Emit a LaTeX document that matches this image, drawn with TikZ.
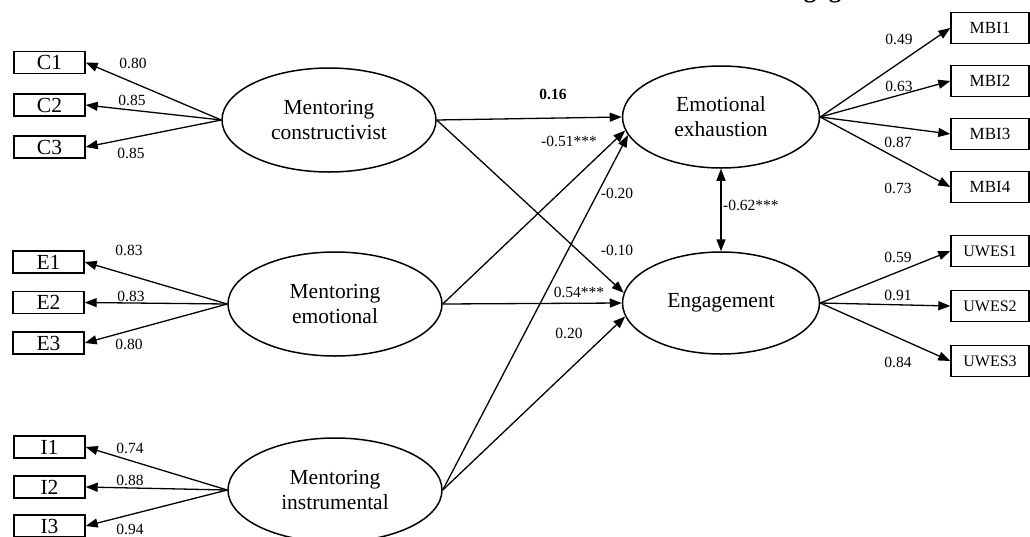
\documentclass[tikz,border=0pt]{standalone}
\usepackage{fontspec}
\setmainfont{Liberation Serif}
\usetikzlibrary{shapes.geometric,arrows.meta}
\begin{document}
\begin{tikzpicture}[x=1pt,y=-1pt,
  lat/.style={ellipse,draw,line width=1.5pt,inner sep=0pt,align=center,
    font=\fontsize{21.5}{25}\selectfont},
  latL/.style={lat,minimum width=214pt,minimum height=104pt},
  latR/.style={lat,minimum width=197pt,minimum height=102pt},
  ind/.style={rectangle,draw,line width=1.4pt,inner sep=0pt,
    minimum width=71pt,minimum height=22pt,font=\fontsize{21.5}{22}\selectfont},
  indR/.style={rectangle,draw,line width=1.4pt,inner sep=0pt,
    minimum width=78pt,minimum height=31pt,font=\fontsize{17}{18}\selectfont},
  lab/.style={inner sep=0pt,font=\fontsize{15.5}{17}\selectfont},
  arr/.style={line width=1.3pt,-{Triangle[length=12pt,width=9pt]}},
  darr/.style={line width=1.3pt,{Triangle[length=12pt,width=9pt]}-{Triangle[length=12pt,width=9pt]}}
]
\useasboundingbox (0,0) rectangle (1030,536);

% heading, mostly above the frame
\node[anchor=base west,inner sep=0pt,font=\bfseries\fontsize{25}{30}\selectfont] (head) at (773,-2.5) {Engagement};

% latent variables
\node[latL] (MC) at (329,120) {Mentoring\\constructivist};
\node[latL] (ME) at (335,304) {Mentoring\\emotional};
\node[latL] (MI) at (335,490) {Mentoring\\instrumental};
\node[latR] (EE) at (721,117) {Emotional\\exhaustion};
\node[latR] (EN) at (721,303) {Engagement};

% indicators, left
\node[ind] (C1) at (49.5,62.5) {C1};
\node[ind] (C2) at (49.5,105) {C2};
\node[ind] (C3) at (49.5,147) {C3};
\node[ind] (E1) at (48.5,262) {E1};
\node[ind] (E2) at (48.5,302.5) {E2};
\node[ind] (E3) at (48.5,343) {E3};
\node[ind] (I1) at (49.5,447) {I1};
\node[ind] (I2) at (49.5,487) {I2};
\node[ind] (I3) at (49.5,526) {I3};

% indicators, right
\node[indR] (M1) at (990,28) {MBI1};
\node[indR] (M2) at (990,81) {MBI2};
\node[indR] (M3) at (990,134) {MBI3};
\node[indR] (M4) at (990,187) {MBI4};
\node[indR,font=\fontsize{16}{17}\selectfont] (U1) at (990,251) {UWES1};
\node[indR,font=\fontsize{16}{17}\selectfont] (U2) at (990,306) {UWES2};
\node[indR,font=\fontsize{16}{17}\selectfont] (U3) at (990,361) {UWES3};

% loadings
\foreach \t in {C1,C2,C3} \draw[arr] (MC.west) -- (\t.east);
\foreach \t in {E1,E2,E3} \draw[arr] (ME.west) -- (\t.east);
\foreach \t in {I1,I2,I3} \draw[arr] (MI.west) -- (\t.east);
\foreach \t in {M1,M2,M3,M4} \draw[arr] (EE.east) -- (\t.west);
\foreach \t in {U1,U2,U3} \draw[arr] (EN.east) -- (\t.west);

% structural paths
\draw[arr] (MC.east) -- (EE.west);
\draw[arr] (MC.east) -- (EN.174);
\draw[arr] (ME.east) -- (EE.188);
\draw[arr] (ME.east) -- (EN.west);
\draw[arr] (MI.east) -- (EE.191);
\draw[arr] (MI.east) -- (EN.188);
\draw[darr] (EE.south) -- (EN.north);

% loading labels, left
\node[lab] (lC1) at (133,63) {0.80};
\node[lab] (lC2) at (132,100) {0.85};
\node[lab] (lC3) at (131,153) {0.85};
\node[lab] (lE1) at (129,250) {0.83};
\node[lab] (lE2) at (131,296) {0.83};
\node[lab] (lE3) at (129,344) {0.80};
\node[lab] (lI1) at (130,448) {0.74};
\node[lab] (lI2) at (130,480) {0.88};
\node[lab] (lI3) at (130,529) {0.94};

% loading labels, right
\node[lab] (lM1) at (899,39) {0.49};
\node[lab] (lM2) at (899,86) {0.63};
\node[lab] (lM3) at (898,142) {0.87};
\node[lab] (lM4) at (898,188) {0.73};
\node[lab] (lU1) at (898,257) {0.59};
\node[lab] (lU2) at (898,295) {0.91};
\node[lab] (lU3) at (898,362) {0.84};

% path coefficients
\node[lab,font=\bfseries\fontsize{15.5}{17}\selectfont] (pCE) at (553,94) {0.16};
\node[lab] (pEE) at (569,141) {-0.51***};
\node[lab] (pIE) at (617,193) {-0.20};
\node[lab] (pCN) at (617,250) {-0.10};
\node[lab] (pEN) at (579,292) {0.54***};
\node[lab] (pIN) at (569,333) {0.20};
\node[lab,anchor=west] (pcov) at (723,205) {-0.62***};
\end{tikzpicture}
\end{document}
